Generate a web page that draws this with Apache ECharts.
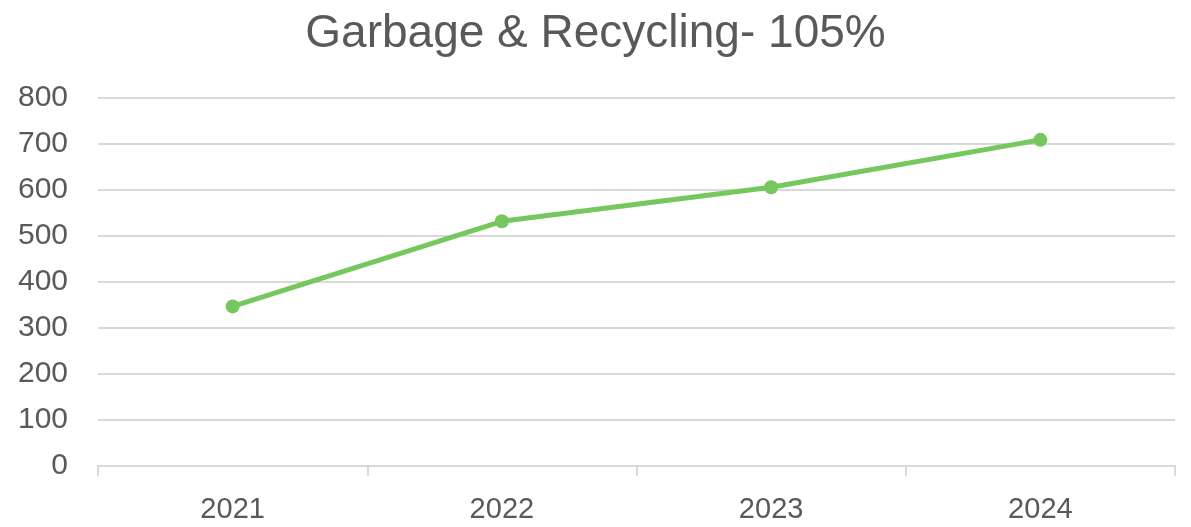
<!DOCTYPE html>
<html>
<head>
<meta charset="utf-8">
<script src="https://cdn.jsdelivr.net/npm/echarts@6/dist/echarts.min.js"></script>
<style>
  html, body { margin: 0; padding: 0; background: #fff; }
  #chart { width: 1191px; height: 527px; }
</style>
</head>
<body>
<div id="chart"></div>
<script>
// data
const years = ['2021', '2022', '2023', '2024'];
const amounts = [347, 532, 606, 709];
const yTicks = [0, 100, 200, 300, 400, 500, 600, 700, 800];

let myChart = echarts.init(document.getElementById('chart'));
let option = {
    animation: false,
    title: {
        text: 'Garbage & Recycling- 105%',
        left: 'center',
        top: 6,
        textStyle: {
            fontFamily: 'Liberation Sans',
            fontSize: 46,
            fontWeight: 'normal',
            color: '#595959'
        }
    },
    grid: {
        left: 98,
        right: 16,
        top: 98,
        bottom: 61
    },
    xAxis: {
        type: 'category',
        data: years,
        boundaryGap: true,
        axisLine: { lineStyle: { color: '#d9d9d9', width: 2 } },
        axisTick: { show: true, length: 10, lineStyle: { color: '#d9d9d9', width: 2 } },
        axisLabel: {
            margin: 29,
            fontFamily: 'Liberation Sans',
            fontSize: 29,
            color: '#595959'
        }
    },
    yAxis: {
        type: 'value',
        min: yTicks[0],
        max: yTicks[yTicks.length - 1],
        interval: 100,
        axisLine: { show: false },
        axisTick: { show: false },
        splitLine: { lineStyle: { color: '#d9d9d9', width: 2 } },
        axisLabel: {
            margin: 30,
            fontFamily: 'Liberation Sans',
            fontSize: 30,
            color: '#595959'
        }
    },
    series: [{
        name: 'Garbage & Recycling',
        type: 'line',
        data: amounts,
        symbol: 'circle',
        symbolSize: 14,
        lineStyle: { color: '#76c75d', width: 5 },
        itemStyle: { color: '#76c75d' }
    }]
};
myChart.setOption(option);
</script>
</body>
</html>
